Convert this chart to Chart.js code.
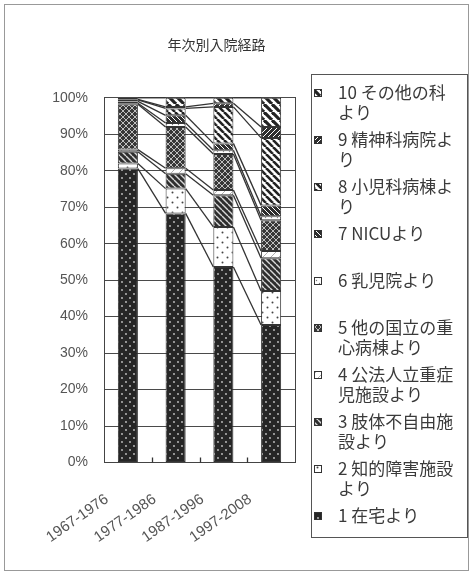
<!DOCTYPE html>
<html lang="ja">
<head>
<meta charset="utf-8">
<title>年次別入院経路</title>
<script src="https://cdn.jsdelivr.net/npm/chart.js@4.4.1/dist/chart.umd.min.js"></script>
<style>
  html, body { margin: 0; padding: 0; background: #fff; }
  #wrap { position: relative; width: 471px; height: 574px; }
</style>
</head>
<body>
<div id="wrap"><canvas id="c"></canvas></div>
<script>
/* 年次別入院経路 · 100% 積み上げ棒 (Excel 風の白黒パターン + 区分線) */

const periods = ['1967-1976', '1977-1986', '1987-1996', '1997-2008'];
const seriesNames = [
  '1 在宅より', '2 知的障害施設より', '3 肢体不自由施設より', '4 公法人立重症児施設より',
  '5 他の国立の重心病棟より', '6 乳児院より', '7 NICUより', '8 小児科病棟より',
  '9 精神科病院より', '10 その他の科より',
];
// 構成比 (%)、期間順
const s1 = [80.6, 68.3, 53.6, 37.7];
const s2 = [1.4, 6.8, 11.0, 9.3];
const s3 = [3.2, 4.1, 8.7, 9.0];
const s4 = [0.6, 1.5, 1.4, 2.0];
const s5 = [12.4, 11.3, 9.9, 8.4];
const s6 = [0.3, 1.1, 1.0, 1.1];
const s7 = [0.5, 2.1, 1.9, 3.0];
const s8 = [0.4, 1.9, 10.0, 18.5];
const s9 = [0.2, 0.4, 1.0, 3.0];
const s10 = [0.4, 2.5, 1.5, 8.0];
const seriesValues = [s1, s2, s3, s4, s5, s6, s7, s8, s9, s10];

const JP = '"Noto Sans CJK JP", "Noto Sans", sans-serif';
const LAT = '"Liberation Sans", Arial, sans-serif';

/* ---------- パターン ---------- */
function tile(n, draw) {
  const c = document.createElement('canvas');
  c.width = c.height = n;
  const g = c.getContext('2d');
  draw(g, n);
  return g.createPattern(c, 'repeat');
}
function stripes(g, n, bg, fg, w, dir) {
  g.fillStyle = bg; g.fillRect(0, 0, n, n);
  g.strokeStyle = fg; g.lineWidth = w;
  for (let k = -1; k <= 1; k++) {
    g.beginPath();
    if (dir > 0) { g.moveTo(k * n, 0); g.lineTo(k * n + n, n); }   // '\'
    else { g.moveTo(k * n, n); g.lineTo(k * n + n, 0); }           // '/'
    g.stroke();
  }
}
function dots(g, n, bg, fg, r, pts) {
  g.fillStyle = bg; g.fillRect(0, 0, n, n);
  g.fillStyle = fg;
  pts.forEach(([x, y]) => { g.beginPath(); g.arc(x, y, r, 0, Math.PI * 2); g.fill(); });
}

const fills = [
  tile(8, (g, n) => dots(g, n, '#262626', '#c8c8c8', 0.9, [[2, 2], [6, 6]])),
  tile(10, (g, n) => dots(g, n, '#ffffff', '#444', 1.0, [[2.5, 2.5], [7.5, 7.5]])),
  tile(6, (g, n) => stripes(g, n, '#2e2e2e', '#d8d8d8', 1.4, 1)),
  tile(8, (g, n) => stripes(g, n, '#ffffff', '#999', 0.8, -1)),
  tile(6, (g, n) => { stripes(g, n, '#383838', '#cfcfcf', 0.9, 1); g.beginPath();
    g.moveTo(0, n); g.lineTo(n, 0); g.moveTo(-n, n); g.lineTo(0, 0); g.moveTo(n, n); g.lineTo(2 * n, 0); g.stroke(); }),
  tile(6, (g, n) => dots(g, n, '#ffffff', '#777', 0.7, [[1.5, 1.5], [4.5, 4.5]])),
  tile(5, (g, n) => stripes(g, n, '#2e2e2e', '#ffffff', 1.0, 1)),
  tile(7, (g, n) => stripes(g, n, '#ffffff', '#222', 2.6, 1)),
  tile(5, (g, n) => stripes(g, n, '#2e2e2e', '#ffffff', 1.0, -1)),
  tile(8, (g, n) => stripes(g, n, '#ffffff', '#222', 3.2, 1)),
];

const datasets = seriesValues.map((data, i) => ({
  label: seriesNames[i],
  data,
  backgroundColor: fills[i],
  borderColor: '#333',
  borderWidth: 1,
  borderSkipped: false,
}));

/* ---------- プラグイン ---------- */
// 外枠
const frame = {
  id: 'frame',
  beforeDraw(chart) {
    const { ctx, width, height } = chart;
    ctx.save();
    ctx.strokeStyle = '#999';
    ctx.lineWidth = 1;
    ctx.strokeRect(4.5, 4.5, width - 7, height - 8);
    ctx.restore();
  },
};

// 区分線 (各系列の上端を隣の棒とつなぐ) と内向きの区切り目盛
const seriesLines = {
  id: 'seriesLines',
  afterDatasetsDraw(chart) {
    const { ctx, chartArea } = chart;
    ctx.save();
    ctx.strokeStyle = '#333';
    ctx.lineWidth = 1.3;
    chart.data.datasets.forEach((ds, d) => {
      const bars = chart.getDatasetMeta(d).data;
      for (let i = 0; i < bars.length - 1; i++) {
        const a = bars[i], b = bars[i + 1];
        ctx.beginPath();
        ctx.moveTo(a.x + a.width / 2, a.y);
        ctx.lineTo(b.x - b.width / 2, b.y);
        ctx.stroke();
      }
    });
    const xs = chart.scales.x;
    for (let i = 0; i < periods.length - 1; i++) {
      const x = Math.round((xs.getPixelForValue(i) + xs.getPixelForValue(i + 1)) / 2) + 0.5;
      ctx.beginPath();
      ctx.moveTo(x, chartArea.bottom);
      ctx.lineTo(x, chartArea.bottom - 5);
      ctx.stroke();
    }
    ctx.restore();
  },
};

// 枠付き凡例 (系列 10 → 1、折り返しあり)
function wrapLabel(ctx, text, maxW) {
  const lines = [];
  let cur = '';
  for (const ch of text) {
    if (cur && ctx.measureText(cur + ch).width > maxW) { lines.push(cur); cur = ch; }
    else cur += ch;
  }
  if (cur) lines.push(cur);
  return lines;
}
const boxLegend = {
  id: 'boxLegend',
  afterDraw(chart, args, o) {
    const { ctx } = chart;
    ctx.save();
    ctx.strokeStyle = '#555';
    ctx.lineWidth = 1;
    ctx.strokeRect(o.left + 0.5, o.top + 0.5, o.right - o.left, o.bottom - o.top);
    ctx.font = `${o.fontSize}px ${JP}`;
    ctx.textBaseline = 'middle';
    ctx.textAlign = 'left';
    const items = chart.data.datasets.map((ds) => ds).reverse();
    items.forEach((ds, k) => {
      const y = o.firstY + k * o.step;
      ctx.fillStyle = ds.backgroundColor;
      ctx.fillRect(o.iconX, y - 4, 8, 8);
      ctx.strokeStyle = '#333';
      ctx.strokeRect(o.iconX + 0.5, y - 3.5, 7, 7);
      ctx.fillStyle = '#3a3a3a';
      wrapLabel(ctx, ds.label, o.textWidth).forEach((ln, j) => ctx.fillText(ln, o.textX, y + j * o.lineGap));
    });
    ctx.restore();
  },
};

/* ---------- チャート ---------- */
new Chart(document.getElementById('c'), {
  type: 'bar',
  data: { labels: periods, datasets },
  options: {
    responsive: true,
    maintainAspectRatio: false,
    animation: false,
    layout: { padding: { left: 0, right: 38, top: 0, bottom: 0 } },
    datasets: { bar: { barPercentage: 0.42, categoryPercentage: 1 } },
    plugins: {
      legend: { display: false },
      tooltip: { enabled: false },
      title: {
        display: true, text: '年次別入院経路', color: '#333',
        font: { family: JP, size: 14, weight: 'normal' },
        padding: { top: 36, bottom: 45 },
      },
      boxLegend: {
        left: 311, right: 467, top: 74, bottom: 537,
        iconX: 314, textX: 338, textWidth: 122,
        firstY: 93, step: 47, lineGap: 20, fontSize: 17,
      },
    },
    scales: {
      x: {
        stacked: true,
        grid: { display: false },
        border: { color: '#444', width: 1 },
        ticks: {
          color: '#555', font: { family: LAT, size: 15 },
          minRotation: 35, maxRotation: 35, padding: 20, labelOffset: -21,
        },
        afterFit: (s) => { s.height = 111.5; },
      },
      y: {
        stacked: true, min: 0, max: 100,
        grid: { color: '#4a4a4a', lineWidth: 1, drawTicks: false },
        border: { color: '#444', width: 1 },
        ticks: {
          stepSize: 10, padding: 16, color: '#555',
          font: { family: LAT, size: 14 },
          callback: (v) => v + '%',
        },
        afterFit: (s) => { s.width = 104; },
      },
      yR: {
        position: 'right',
        grid: { display: false, drawTicks: false },
        ticks: { display: false },
        border: { color: '#444', width: 1 },
        afterFit: (s) => { s.width = 138; },
      },
    },
  },
  plugins: [frame, seriesLines, boxLegend],
});
</script>
</body>
</html>
